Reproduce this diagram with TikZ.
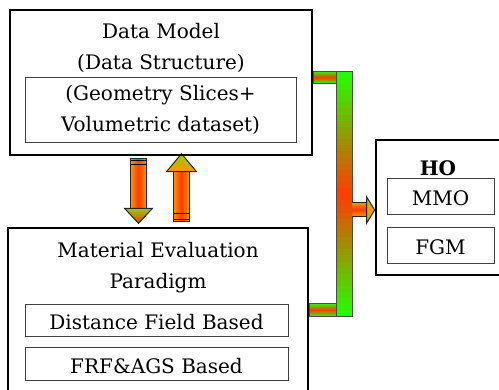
\documentclass[tikz,border=0pt]{standalone}
\usepackage{fontspec}
\setmainfont{DejaVu Serif}
\usepackage{xcolor}
\definecolor{busGreen}{HTML}{22FF00}
\definecolor{busRed}{HTML}{FF3C00}
\definecolor{flowOrange}{HTML}{FF9400}
\definecolor{headGreen}{HTML}{8CD400}
\usetikzlibrary{positioning, calc, backgrounds}

\begin{document}
\begin{tikzpicture}[
  x=1pt, y=1pt,
  font=\fontsize{20}{31}\selectfont,
  every node/.style={align=center},
  outerBox/.style={rectangle, draw=black, line width=2.6pt, inner sep=0pt},
  innerBox/.style={rectangle, draw=black!75, line width=1pt, inner sep=0pt, text height=19pt, text depth=0pt},
  titleText/.style={inner sep=0pt},
  % colour bands drawn as thin strips inside the path
  vBand/.style 2 args={path picture={
    \foreach \i in {0,...,39}{
      \pgfmathtruncatemacro{\mix}{abs(19.5-\i)/19.5*100}
      \pgfmathsetmacro{\ta}{\i/40}\pgfmathsetmacro{\tb}{(\i+1.4)/40}
      \fill[#1!\mix!#2] ($(path picture bounding box.north west)!\ta!(path picture bounding box.south west)$)
        rectangle ($(path picture bounding box.north east)!\tb!(path picture bounding box.south east)$);
    }}},
  hBand/.style 2 args={path picture={
    \foreach \i in {0,...,39}{
      \pgfmathtruncatemacro{\mix}{abs(19.5-\i)/19.5*100}
      \pgfmathsetmacro{\ta}{\i/40}\pgfmathsetmacro{\tb}{(\i+1.4)/40}
      \fill[#1!\mix!#2] ($(path picture bounding box.north west)!\ta!(path picture bounding box.north east)$)
        rectangle ($(path picture bounding box.south west)!\tb!(path picture bounding box.south east)$);
    }}},
  vFade/.style 2 args={path picture={
    \foreach \i in {0,...,39}{
      \pgfmathtruncatemacro{\mix}{100-\i/39*100}
      \pgfmathsetmacro{\ta}{\i/40}\pgfmathsetmacro{\tb}{(\i+1.4)/40}
      \fill[#1!\mix!#2] ($(path picture bounding box.north west)!\ta!(path picture bounding box.south west)$)
        rectangle ($(path picture bounding box.north east)!\tb!(path picture bounding box.south east)$);
    }}},
  shaftFill/.style={draw=black!85, line width=1pt, hBand={flowOrange}{busRed}},
  headFill/.style={draw=black!85, line width=1pt},
  busFill/.style={draw=black!70, line width=0.8pt, vBand={busGreen}{busRed}},
  stubFill/.style={draw=black!70, line width=0.6pt, vBand={busGreen}{busRed}},
  tailLine/.style={black, line width=1.2pt},
]
\useasboundingbox (0,0) rectangle (499,390);

% ------------------- Data model (top) -------------------
\node[outerBox, minimum width=302pt, minimum height=145pt] (dataModel) at (161,307.5) {};
\node[titleText, below=14pt of dataModel.north] (dmTitle) {Data Model\\(Data Structure)};
\node[innerBox, text height=, text depth=, minimum width=271pt, minimum height=65pt,
      below=68pt of dataModel.north, xshift=-0.5pt] (dmInner)
  {\fontsize{20}{27}\selectfont (Geometry Slices+\\Volumetric dataset)};

% ------------------- Material evaluation (bottom) -------
\node[outerBox, minimum width=300pt, minimum height=172pt] (matEval) at (158,76) {};
\node[titleText, below=15.5pt of matEval.north] (meTitle) {Material Evaluation\\Paradigm};
\node[innerBox, minimum width=263pt, minimum height=32pt,
      below=77pt of matEval.north, xshift=-1.5pt] (distField) {Distance Field Based};
\node[innerBox, minimum width=263pt, minimum height=33pt, below=10pt of distField] (frfAgs) {FRF\&AGS Based};

% ------------------- HO (right) -------------------------
\node[outerBox, minimum width=128pt, minimum height=135pt] (ho) at (440,182.5) {};
\node[titleText, font=\fontsize{20}{31}\selectfont\bfseries, below=21.5pt of ho.north, xshift=-2pt] (hoTitle) {HO};
\node[innerBox, minimum width=107pt, minimum height=36pt, below=39pt of ho.north, xshift=0.5pt] (mmo) {MMO};
\node[innerBox, minimum width=107pt, minimum height=36pt, below=12pt of mmo] (fgm) {FGM};

% ------------------- Flow arrows ------------------------
\begin{pgfonlayer}{background}
  % down: data model -> material evaluation
  \coordinate (downTail) at ($(dataModel.south)+(-22.5,-2)$);
  \draw[shaftFill] ($(downTail)+(-8,0)$) rectangle ++(16,-50);
  \draw[headFill, vFade={headGreen}{busRed}] ($(downTail)+(-14,-50)$) -- ++(28,0) -- ++(-14,-15) -- cycle;
  \draw[tailLine] ($(downTail)+(-8,-2.5)$) -- ++(16,0);
  \draw[tailLine] ($(downTail)+(-8,-6.5)$) -- ++(16,0);

  % up: material evaluation -> data model
  \coordinate (upTail) at ($(matEval.north)+(23.5,5)$);
  \draw[shaftFill] ($(upTail)+(-8,0)$) rectangle ++(16,50);
  \draw[headFill, vFade={headGreen}{flowOrange}] ($(upTail)+(-15,50)$) -- ++(30,0) -- ++(-15,18) -- cycle;
  \draw[tailLine] ($(upTail)+(-8,2.5)$) -- ++(16,0);
  \draw[tailLine] ($(upTail)+(-8,8.5)$) -- ++(16,0);

  % bus bar joining both boxes to HO
  \coordinate (busNW) at ($(dataModel.north east)+(23,-63)$);
  \coordinate (busSE) at ($(busNW |- matEval.north)+(16,-90)$);
  \draw[stubFill] (dataModel.east |- busNW) rectangle ($(busNW)+(0,-12)$);
  \draw[stubFill] ($(matEval.east |- busSE)+(0,13)$) rectangle (busNW |- busSE);
  \draw[busFill] (busNW) rectangle (busSE);

  % bus -> HO
  \coordinate (hoTip) at ($(ho.west)+(0,-2.5)$);
  \draw[headFill, vBand={flowOrange}{busRed}]
    ($(busSE |- hoTip)+(0,7)$) -- ($(hoTip)+(-8,7)$) -- ($(hoTip)+(-8,-7)$) -- ($(busSE |- hoTip)+(0,-7)$);
  \draw[headFill, vBand={headGreen}{flowOrange}]
    ($(hoTip)+(-8,13)$) -- (hoTip) -- ($(hoTip)+(-8,-13)$) -- cycle;
\end{pgfonlayer}

\end{tikzpicture}
\end{document}
